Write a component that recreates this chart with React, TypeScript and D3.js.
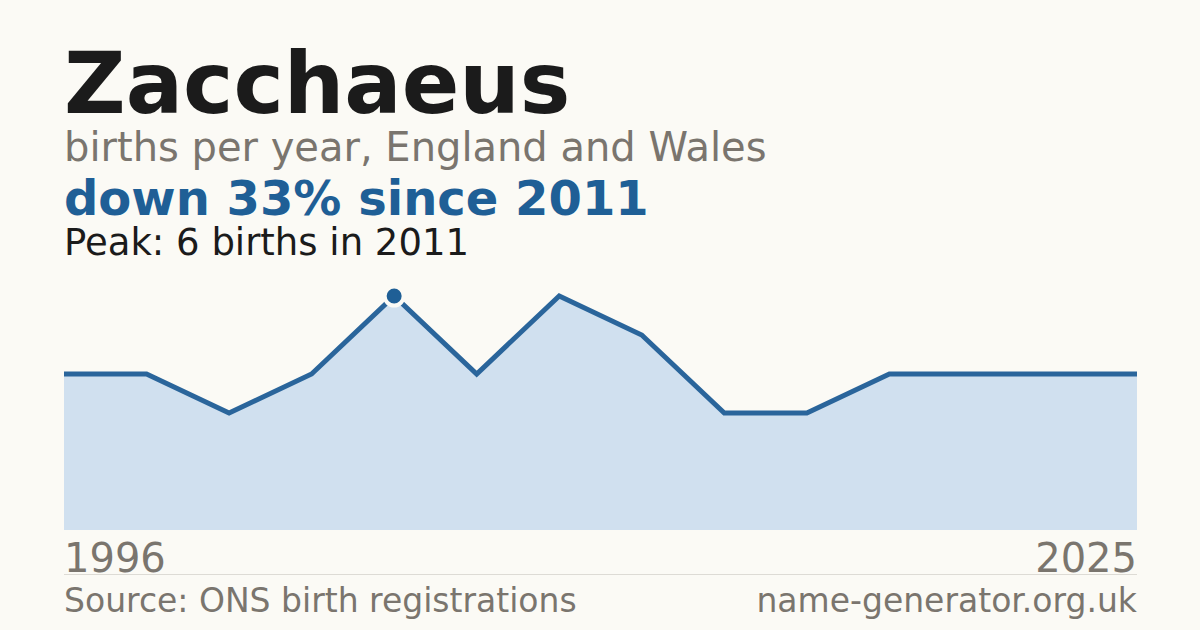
import * as d3 from 'd3';
import { useEffect, useRef } from 'react';

const WIDTH = 1200;
const HEIGHT = 630;

const NAME = 'Zacchaeus';
const SUBTITLE = 'births per year, England and Wales';
const HEADLINE = 'down 33% since 2011';
const PEAK_TEXT = 'Peak: 6 births in 2011';
const SOURCE = 'Source: ONS birth registrations';
const SITE = 'name-generator.org.uk';

const years = [2007, 2008, 2009, 2010, 2011, 2012, 2013, 2014, 2015, 2016, 2017, 2018, 2019, 2020];
const births = [4, 4, 3, 4, 6, 4, 6, 5, 3, 3, 4, 4, 4, 4];
const axisLabels = ['1996', '2025'];
const peakYear = 2011;

const FONT = '"DejaVu Sans", sans-serif';

const App = () => {
    const svgRef = useRef<SVGSVGElement | null>(null);

    useEffect(() => {
        document.body.style.margin = '0';
        if (!svgRef.current) return;

        const svg = d3.select(svgRef.current);
        svg.selectAll('*').remove();

        const margin = { left: 64, right: 63 };
        const plotTop = 296;
        const plotBottom = 530;

        svg.append('rect').attr('width', WIDTH).attr('height', HEIGHT).attr('fill', '#fbfaf5');

        // Header text
        svg.append('text')
            .attr('x', margin.left)
            .attr('y', 113)
            .attr('font-family', FONT)
            .attr('font-weight', 'bold')
            .attr('font-size', 85)
            .attr('fill', '#1b1b1b')
            .text(NAME);

        svg.append('text')
            .attr('x', margin.left)
            .attr('y', 161)
            .attr('font-family', FONT)
            .attr('font-size', 40)
            .attr('fill', '#7a756e')
            .text(SUBTITLE);

        svg.append('text')
            .attr('x', margin.left)
            .attr('y', 215)
            .attr('font-family', FONT)
            .attr('font-weight', 'bold')
            .attr('font-size', 48)
            .attr('fill', '#1f5f96')
            .text(HEADLINE);

        svg.append('text')
            .attr('x', margin.left)
            .attr('y', 255)
            .attr('font-family', FONT)
            .attr('font-size', 37)
            .attr('fill', '#1b1b1b')
            .text(PEAK_TEXT);

        const xScale = d3
            .scaleLinear()
            .domain([0, years.length - 1])
            .range([margin.left, WIDTH - margin.right]);

        const yScale = d3
            .scaleLinear()
            .domain([0, d3.max(births)!])
            .range([plotBottom, plotTop]);

        const area = d3
            .area<number>()
            .x((_, i) => xScale(i))
            .y0(plotBottom)
            .y1((d) => yScale(d));

        const line = d3
            .line<number>()
            .x((_, i) => xScale(i))
            .y((d) => yScale(d));

        svg.append('path').datum(births).attr('d', area).attr('fill', '#d0e0ef');

        svg.append('path')
            .datum(births)
            .attr('d', line)
            .attr('fill', 'none')
            .attr('stroke', '#2a659b')
            .attr('stroke-width', 5)
            .attr('stroke-linejoin', 'miter');

        // Peak marker
        const peakIdx = years.indexOf(peakYear);
        svg.append('circle')
            .attr('cx', xScale(peakIdx))
            .attr('cy', yScale(births[peakIdx]))
            .attr('r', 9.5)
            .attr('fill', '#1f5f96')
            .attr('stroke', '#fbfaf5')
            .attr('stroke-width', 4);

        // Axis end labels
        svg.append('text')
            .attr('x', xScale(0))
            .attr('y', 572)
            .attr('font-family', FONT)
            .attr('font-size', 40)
            .attr('fill', '#7a756e')
            .text(axisLabels[0]);

        svg.append('text')
            .attr('x', xScale(years.length - 1))
            .attr('y', 572)
            .attr('text-anchor', 'end')
            .attr('font-family', FONT)
            .attr('font-size', 40)
            .attr('fill', '#7a756e')
            .text(axisLabels[1]);

        svg.append('line')
            .attr('x1', margin.left)
            .attr('x2', WIDTH - margin.right)
            .attr('y1', 574.5)
            .attr('y2', 574.5)
            .attr('stroke', '#dddbd5')
            .attr('stroke-width', 1);

        svg.append('text')
            .attr('x', margin.left)
            .attr('y', 612)
            .attr('font-family', FONT)
            .attr('font-size', 33)
            .attr('fill', '#7a756e')
            .text(SOURCE);

        svg.append('text')
            .attr('x', WIDTH - margin.right)
            .attr('y', 612)
            .attr('text-anchor', 'end')
            .attr('font-family', FONT)
            .attr('font-size', 33)
            .attr('fill', '#7a756e')
            .text(SITE);
    }, []);

    return <svg ref={svgRef} width={WIDTH} height={HEIGHT} style={{ display: 'block' }}></svg>;
};

export default App;
